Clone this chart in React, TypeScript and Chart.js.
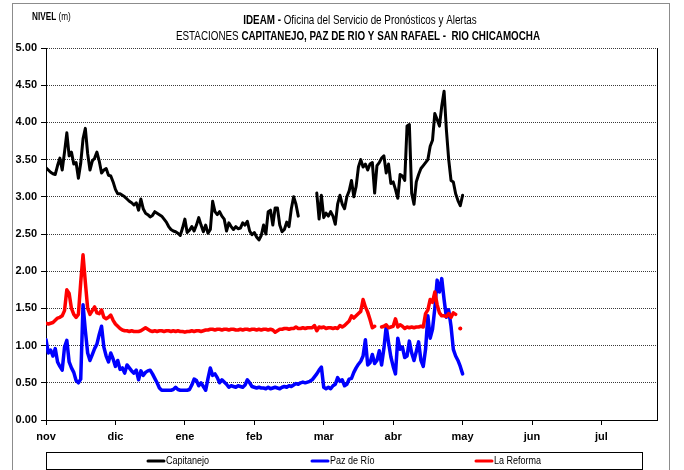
import React, { useEffect, useRef } from 'react';
import { Chart, registerables } from 'chart.js';

Chart.register(...registerables);

const monthLabels = ['nov', 'dic', 'ene', 'feb', 'mar', 'abr', 'may', 'jun', 'jul'];

const seriesNames = ['Capitanejo', 'Paz de Río', 'La Reforma'];
const seriesColors = ['#000000', '#0000ff', '#ff0000'];

// daily levels (m) from 1 Nov
const capitanejo: (number | null)[] = [
  3.39, 3.36, 3.33, 3.31, 3.30, 3.42, 3.52, 3.36, 3.60, 3.86,
  3.55, 3.60, 3.44, 3.46, 3.25, 3.45, 3.78, 3.92, 3.58, 3.36,
  3.48, 3.52, 3.60, 3.48, 3.32, 3.36, 3.38, 3.29, 3.28, 3.20,
  3.10, 3.04, 3.04, 3.02, 3.00, 2.97, 2.94, 2.92, 2.89, 2.92,
  2.82, 2.97, 2.84, 2.78, 2.76, 2.73, 2.75, 2.80, 2.78, 2.76,
  2.74, 2.70, 2.66, 2.60, 2.56, 2.54, 2.53, 2.51, 2.48, 2.58,
  2.70, 2.52, 2.55, 2.60, 2.54, 2.62, 2.72, 2.62, 2.53, 2.62,
  2.51, 2.56, 2.94, 2.80, 2.76, 2.80, 2.74, 2.70, 2.54, 2.65,
  2.60, 2.56, 2.60, 2.57, 2.58, 2.65, 2.62, 2.67, 2.54, 2.49,
  2.52, 2.46, 2.42, 2.48, 2.62, 2.50, 2.80, 2.82, 2.62, 2.85,
  2.85, 2.62, 2.53, 2.56, 2.66, 2.60, 2.84, 3.00, 2.90, 2.74,
  null, null, null, null, null, null, null, 3.05, 2.70, 3.02,
  2.72, 2.78, 2.74, 2.80, 2.74, 2.63, 2.90, 3.02, 2.90, 2.84,
  3.00, 3.08, 3.22, 3.00, 3.14, 3.40, 3.50, 3.40, 3.44, 3.36,
  3.44, 3.46, 3.05, 3.42, 3.46, 3.52, 3.55, 3.32, 3.44, 3.18,
  3.20, 3.10, 2.98, 3.30, 3.28, 3.22, 3.95, 3.97, 3.05, 2.90,
  3.20, 3.30, 3.38, 3.42, 3.46, 3.50, 3.68, 3.76, 4.12, 4.04,
  3.95, 4.22, 4.42, 3.90, 3.50, 3.22, 3.20, 3.04, 2.95, 2.88,
  3.02,
];

const pazDeRio: (number | null)[] = [
  1.08, 0.90, 0.94, 0.86, 0.96, 0.78, 0.72, 0.67, 0.98, 1.07,
  0.78, 0.70, 0.64, 0.53, 0.50, 0.55, 1.55, 1.20, 0.90, 0.80,
  0.88, 0.96, 1.02, 1.15, 1.26, 0.98, 0.86, 0.78, 0.90, 0.82,
  0.72, 0.80, 0.68, 0.70, 0.63, 0.74, 0.70, 0.66, 0.63, 0.67,
  0.54, 0.66, 0.60, 0.64, 0.66, 0.67, 0.62, 0.56, 0.50, 0.43,
  0.40, 0.40, 0.40, 0.40, 0.40, 0.41, 0.44, 0.41, 0.40, 0.40,
  0.40, 0.40, 0.41, 0.47, 0.55, 0.53, 0.46, 0.50, 0.45, 0.40,
  0.56, 0.70, 0.60, 0.62, 0.57, 0.50, 0.54, 0.51, 0.48, 0.44,
  0.46, 0.45, 0.44, 0.46, 0.45, 0.44, 0.47, 0.54, 0.50, 0.45,
  0.44, 0.43, 0.44, 0.43, 0.43, 0.42, 0.44, 0.42, 0.43, 0.44,
  0.43, 0.42, 0.44, 0.45, 0.44, 0.46, 0.45, 0.47, 0.49, 0.48,
  0.50, 0.51, 0.50, 0.51, 0.52, 0.54, 0.58, 0.62, 0.67, 0.71,
  0.44, 0.42, 0.44, 0.42, 0.46, 0.48, 0.57, 0.52, 0.54, 0.46,
  0.48, 0.55, 0.56, 0.64, 0.70, 0.75, 0.79, 0.86, 1.08, 0.74,
  0.77, 0.88, 0.76, 0.80, 0.93, 0.74, 0.96, 1.26, 1.04, 0.85,
  0.72, 0.62, 1.10, 0.95, 0.98, 0.84, 0.86, 1.06, 0.90, 0.80,
  0.92, 1.05, 0.80, 0.72, 0.95, 1.40, 1.10, 1.22, 1.50, 1.88,
  1.72, 1.90, 1.62, 1.38, 1.48, 1.26, 0.95, 0.86, 0.80, 0.72,
  0.62,
];

const laReforma: (number | null)[] = [
  1.30, 1.29, 1.30, 1.31, 1.34, 1.37, 1.38, 1.40, 1.47, 1.75,
  1.70, 1.50, 1.42, 1.38, 1.42, 1.85, 2.22, 1.85, 1.50, 1.42,
  1.47, 1.52, 1.44, 1.43, 1.48, 1.38, 1.36, 1.38, 1.41, 1.34,
  1.29, 1.26, 1.23, 1.21, 1.20, 1.20, 1.19, 1.20, 1.19, 1.19,
  1.19, 1.20, 1.22, 1.24, 1.22, 1.20, 1.19, 1.20, 1.19, 1.20,
  1.20, 1.19, 1.20, 1.20, 1.19, 1.20, 1.19, 1.20, 1.19, 1.19,
  1.18, 1.19, 1.19, 1.20, 1.19, 1.20, 1.20, 1.19, 1.20, 1.21,
  1.21, 1.22, 1.22, 1.21, 1.22, 1.22, 1.21, 1.22, 1.22, 1.21,
  1.22, 1.22, 1.21, 1.21, 1.22, 1.21, 1.22, 1.22, 1.21, 1.22,
  1.22, 1.21, 1.22, 1.21, 1.22, 1.22, 1.21, 1.22, 1.21, 1.18,
  1.20, 1.22, 1.22, 1.23, 1.23, 1.22, 1.23, 1.23, 1.25, 1.23,
  1.23, 1.24, 1.23, 1.24, 1.24, 1.24, 1.27, 1.20, 1.25, 1.24,
  1.25, 1.23, 1.24, 1.24, 1.23, 1.24, 1.23, 1.27, 1.25, 1.27,
  1.30, 1.33, 1.40, 1.37, 1.40, 1.43, 1.46, 1.62, 1.52, 1.45,
  1.35, 1.24, 1.26, null, null, 1.25, 1.26, 1.28, 1.24, 1.25,
  1.26, 1.36, 1.25, 1.28, 1.26, 1.23, 1.25, 1.24, 1.25, 1.24,
  1.25, 1.25, 1.26, 1.25, 1.43, 1.48, 1.62, 1.58, 1.72, 1.55,
  1.44, 1.40, 1.40, 1.39, 1.43, 1.38, 1.44, 1.42, null, 1.23,
  null,
];

const yTicks = [0, 0.5, 1, 1.5, 2, 2.5, 3, 3.5, 4, 4.5, 5];

const BASE_FONT = '"Liberation Sans", Arial, sans-serif';
const NARROW = 0.82;

type Part = { text: string; bold: boolean };

function drawMixed(ctx: CanvasRenderingContext2D, parts: Part[], x: number, y: number, size: number, align: 'center' | 'left') {
  ctx.save();
  ctx.textBaseline = 'middle';
  ctx.textAlign = 'left';
  ctx.fillStyle = '#000';
  let total = 0;
  const widths = parts.map((p) => {
    ctx.font = `${p.bold ? 'bold ' : ''}${size}px ${BASE_FONT}`;
    const w = ctx.measureText(p.text).width;
    total += w;
    return w;
  });
  const start = align === 'center' ? x - (total * NARROW) / 2 : x;
  ctx.translate(start, y);
  ctx.scale(NARROW, 1);
  let cx = 0;
  parts.forEach((p, i) => {
    ctx.font = `${p.bold ? 'bold ' : ''}${size}px ${BASE_FONT}`;
    ctx.fillText(p.text, cx, 0);
    cx += widths[i];
  });
  ctx.restore();
}

const decorPlugin = {
  id: 'decor',
  beforeDraw(chart: any) {
    const ctx: CanvasRenderingContext2D = chart.ctx;
    ctx.save();
    ctx.strokeStyle = '#8c8c8c';
    ctx.lineWidth = 1;
    ctx.strokeRect(12.5, 3.5, 657, 480);
    ctx.restore();
  },
  afterDraw(chart: any) {
    const ctx: CanvasRenderingContext2D = chart.ctx;
    const a = chart.chartArea;
    // plot frame right side
    ctx.save();
    ctx.strokeStyle = '#000';
    ctx.lineWidth = 1;
    ctx.beginPath();
    ctx.moveTo(Math.round(a.right) + 0.5, a.top);
    ctx.lineTo(Math.round(a.right) + 0.5, a.bottom);
    ctx.stroke();
    ctx.restore();

    // titles
    drawMixed(ctx, [{ text: 'NIVEL', bold: true }, { text: ' (m)', bold: false }], 32, 17, 10, 'left');
    drawMixed(ctx, [{ text: 'IDEAM - ', bold: true }, { text: 'Oficina del Servicio de Pronósticos y Alertas', bold: false }], 360, 21, 12, 'center');
    drawMixed(ctx, [{ text: 'ESTACIONES ', bold: false }, { text: 'CAPITANEJO, PAZ DE RIO Y SAN RAFAEL -  RIO CHICAMOCHA', bold: true }], 358, 37, 12, 'center');

    // legend box
    ctx.save();
    ctx.strokeStyle = '#000';
    ctx.lineWidth = 1;
    ctx.strokeRect(46.5, 452.5, 596, 17);
    const items = [148, 312, 476];
    seriesNames.forEach((name, i) => {
      const x0 = items[i];
      ctx.strokeStyle = seriesColors[i];
      ctx.lineWidth = 3;
      ctx.lineCap = 'round';
      ctx.beginPath();
      ctx.moveTo(x0, 461);
      ctx.lineTo(x0 + 16, 461);
      ctx.stroke();
      drawMixed(ctx, [{ text: name, bold: false }], x0 + 18, 461, 11, 'left');
    });
    ctx.restore();
  },
};

function isolatedRadius(data: (number | null)[]) {
  return (c: any) => {
    const i = c.dataIndex;
    if (data[i] == null) return 0;
    return data[i - 1] == null && data[i + 1] == null ? 2 : 0;
  };
}

export default function App() {
  const ref = useRef<HTMLCanvasElement | null>(null);
  useEffect(() => {
    document.body.style.margin = '0';
    const canvas = ref.current;
    if (!canvas) return;
    const series = [capitanejo, pazDeRio, laReforma];
    const widths = [3, 3.5, 3.5];
    const orders = [2, 1, 0];
    const chart = new Chart(canvas, {
      type: 'line',
      data: {
        datasets: series.map((s, k) => ({
          label: seriesNames[k],
          data: s.map((v, i) => ({ x: i, y: v })) as any,
          borderColor: seriesColors[k],
          backgroundColor: seriesColors[k],
          borderWidth: widths[k],
          pointRadius: isolatedRadius(s),
          pointHoverRadius: 0,
          pointBorderWidth: 0,
          tension: 0,
          spanGaps: false,
          borderJoinStyle: 'round',
          borderCapStyle: 'round',
          order: orders[k],
        })),
      },
      options: {
        animation: false,
        responsive: false,
        devicePixelRatio: 1,
        events: [],
        layout: { padding: { top: 48, right: 27, left: 0, bottom: 0 } },
        plugins: {
          legend: { display: false },
          title: { display: false },
          tooltip: { enabled: false },
        },
        scales: {
          x: {
            type: 'linear',
            min: 0,
            max: 264,
            afterFit: (s: any) => { s.height = 50; },
            afterBuildTicks: (s: any) => { s.ticks = monthLabels.map((_, i) => ({ value: i * 30 })); },
            ticks: {
              autoSkip: false,
              maxRotation: 0,
              padding: 5,
              color: '#000',
              font: { family: BASE_FONT, size: 11, weight: 'bold' },
              callback: (v: any) => monthLabels[Math.round(Number(v) / 30)] ?? '',
            },
            grid: { drawOnChartArea: false, drawTicks: true, tickLength: 5, tickColor: '#000', color: '#000' },
            border: { color: '#000', width: 1 },
          },
          y: {
            min: 0,
            max: 5,
            afterFit: (s: any) => { s.width = 46; },
            afterBuildTicks: (s: any) => { s.ticks = yTicks.map((v) => ({ value: v })); },
            ticks: {
              padding: 4,
              color: '#000',
              font: { family: BASE_FONT, size: 11, weight: 'bold' },
              callback: (v: any) => Number(v).toFixed(2),
            },
            grid: { color: '#3a3a3a', tickColor: '#000', tickLength: 5, lineWidth: 1 },
            border: { color: '#000', width: 1, dash: [1, 1] },
          },
        },
      },
      plugins: [decorPlugin],
    } as any);
    return () => chart.destroy();
  }, []);
  return (
    <div style={{ width: 684, height: 470 }}>
      <canvas ref={ref} width={684} height={470} style={{ display: 'block' }} />
    </div>
  );
}
